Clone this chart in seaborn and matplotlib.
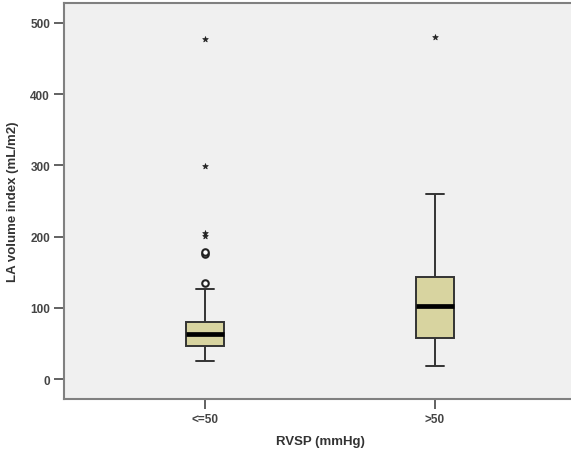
import numpy as np
import pandas as pd
import seaborn as sns
import matplotlib.pyplot as plt

groups = ["<=50", ">50"]

# LA volume index values (sorted, per group)
lavi_low = [25.7, 30, 33, 36, 38, 40, 42, 43, 44, 45.5,
            46.8, 48, 50, 52, 54, 56, 57, 59, 60, 61.5,
            63, 65, 66, 68, 70, 72, 73, 75, 77, 79,
            80.5, 90, 105, 126,
            135, 176, 178, 201, 205, 299, 477]
lavi_high = [18.7, 30, 40, 48, 53,
             57, 70, 80, 90, 97,
             102, 110, 118, 126, 135,
             142.8, 165, 190, 220, 260,
             480]

df = pd.DataFrame({
    "RVSP": [groups[0]] * len(lavi_low) + [groups[1]] * len(lavi_high),
    "LAVI": lavi_low + lavi_high,
})

sns.set_style("white")
plt.rcParams["font.family"] = ["Liberation Sans", "DejaVu Sans"]

fig = plt.figure(figsize=(5.71, 4.56), dpi=100)
ax = fig.add_axes([64 / 571, 56 / 456, 512 / 571, 396 / 456])
ax.set_facecolor("#f0f0f0")

edge = "#333333"
sns.boxplot(data=df, x="RVSP", y="LAVI", order=groups, ax=ax,
            color="#d8d4a0", width=0.162, showfliers=False,
            linecolor=edge, linewidth=1.4, saturation=1,
            medianprops=dict(color="black", linewidth=3.4))

# SPSS style outliers: circles beyond 1.5 IQR, stars beyond 3 IQR
for i, vals in enumerate([lavi_low, lavi_high]):
    v = np.array(vals)
    q1, q3 = np.percentile(v, [25, 75])
    iqr = q3 - q1
    mild = v[((v > q3 + 1.5 * iqr) & (v <= q3 + 3 * iqr)) |
             ((v < q1 - 1.5 * iqr) & (v >= q1 - 3 * iqr))]
    ext = v[(v > q3 + 3 * iqr) | (v < q1 - 3 * iqr)]
    ax.scatter([i] * len(mild), mild, s=22, marker="o",
               facecolor="white", edgecolor="#222222", linewidth=1.5, zorder=5)
    ax.scatter([i] * len(ext), ext, s=18, marker="*",
               color="#222222", linewidth=0.5, zorder=5)

ax.set_xlim(-0.613, 1.613)
ax.set_ylim(-28, 528)
ax.set_yticks([0, 100, 200, 300, 400, 500])

for side in ["left", "bottom", "top", "right"]:
    ax.spines[side].set_color("#808080")
    ax.spines[side].set_linewidth(1.5)

ax.tick_params(axis="both", direction="out", length=7, width=1.3,
               bottom=True, left=True,
               color="#555555", labelsize=8.5, labelcolor="#444444", pad=3)
for lab in ax.get_xticklabels() + ax.get_yticklabels():
    lab.set_fontweight("bold")

ax.set_xlabel("RVSP (mmHg)", fontsize=9.5, fontweight="bold",
              color="#333333", labelpad=7)
ax.set_ylabel("LA volume index (mL/m2)", fontsize=9.5, fontweight="bold",
              color="#333333", labelpad=8)

fig.savefig("out.png", dpi=100)
